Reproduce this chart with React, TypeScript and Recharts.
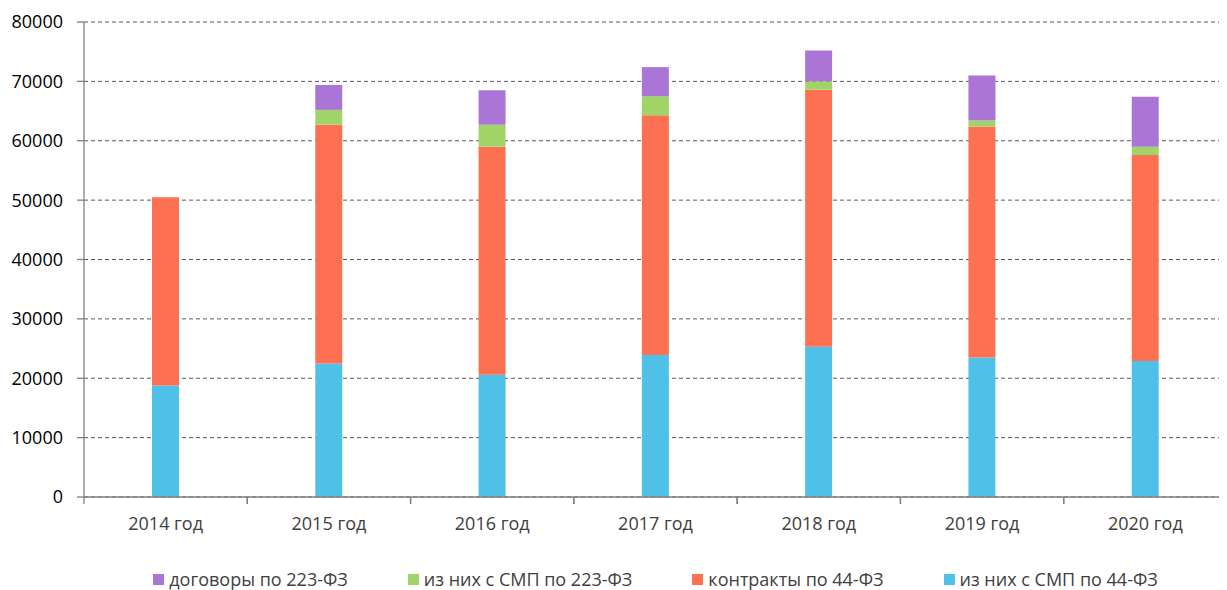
import React from "react";
import { BarChart, Bar, XAxis, YAxis, CartesianGrid } from "recharts";

const years = ["2014 год", "2015 год", "2016 год", "2017 год", "2018 год", "2019 год", "2020 год"];
const smp44 = [18800, 22500, 20600, 23900, 25300, 23500, 22900];
const contracts44 = [31700, 40200, 38400, 40400, 43300, 38900, 34700];
const smp223 = [0, 2500, 3700, 3200, 1400, 1000, 1400];
const contracts223 = [0, 4200, 5800, 4900, 5200, 7600, 8400];
const yTicks = [0, 10000, 20000, 30000, 40000, 50000, 60000, 70000, 80000];

const series = [
  { key: "smp44", name: "из них с СМП по 44-ФЗ", color: "#4FC0E8", values: smp44 },
  { key: "contracts44", name: "контракты по 44-ФЗ", color: "#FD7052", values: contracts44 },
  { key: "smp223", name: "из них с СМП по 223-ФЗ", color: "#A1D467", values: smp223 },
  { key: "contracts223", name: "договоры по 223-ФЗ", color: "#AA75D6", values: contracts223 },
];
const legendOrder = ["contracts223", "smp223", "contracts44", "smp44"];

const data = years.map((y, i) => {
  const row: Record<string, any> = { year: y };
  series.forEach((s) => {
    row[s.key] = s.values[i];
  });
  return row;
});

const FONT = "'Open Sans', sans-serif";
const AXIS = "#808080";
const TICK_MARGIN = 14;

const CatTick = (props: any) => {
  const { x, y, payload } = props;
  const half = payload && payload.offset ? payload.offset : 0;
  const axisY = y - TICK_MARGIN - 6;
  return (
    <g>
      <line x1={x - half} x2={x - half} y1={axisY} y2={axisY + 7} stroke={AXIS} strokeWidth={1.3} />
      <line x1={x + half} x2={x + half} y1={axisY} y2={axisY + 7} stroke={AXIS} strokeWidth={1.3} />
      <text x={x} y={y} dy={13} textAnchor="middle" fill="#404040" fontSize={18} fontFamily={FONT}>
        {payload.value}
      </text>
    </g>
  );
};

const Legend = () => (
  <div
    style={{
      position: "absolute",
      left: 76,
      width: 1143,
      top: 559,
      display: "flex",
      justifyContent: "center",
      fontFamily: FONT,
      fontSize: 18,
      color: "#404040",
      gap: 60,
    }}
  >
    {legendOrder.map((k) => {
      const s = series.find((x) => x.key === k)!;
      return (
        <div key={k} style={{ display: "flex", alignItems: "center", whiteSpace: "nowrap" }}>
          <span style={{ display: "inline-block", width: 11, height: 11, background: s.color, marginRight: 5 }} />
          <span>{s.name}</span>
        </div>
      );
    })}
  </div>
);

export default function App() {
  return (
    <div style={{ position: "relative", width: 1219, height: 582 }}>
      <BarChart
        width={1219}
        height={582}
        data={data}
        margin={{ top: 14, right: 0, bottom: 0, left: 0 }}
        barCategoryGap="0%"
      >
        <CartesianGrid vertical={false} stroke="#595959" strokeDasharray="4 3" />
        <XAxis
          dataKey="year"
          axisLine={{ stroke: AXIS, strokeWidth: 1.3 }}
          tickLine={false}
          height={93}
          tickMargin={TICK_MARGIN}
          interval={0}
          tick={<CatTick />}
        />
        <YAxis
          width={76}
          domain={[0, 80000]}
          ticks={yTicks}
          interval={0}
          tickSize={7}
          tickMargin={14}
          axisLine={{ stroke: AXIS, strokeWidth: 1.3 }}
          tickLine={{ stroke: AXIS, strokeWidth: 1.3 }}
          tick={{ fill: "#000000", fontSize: 18, fontFamily: FONT }}
        />
        {series.map((s) => (
          <Bar
            key={s.key}
            dataKey={s.key}
            name={s.name}
            stackId="a"
            fill={s.color}
            barSize={27}
            isAnimationActive={false}
          />
        ))}
      </BarChart>
      <Legend />
    </div>
  );
}
